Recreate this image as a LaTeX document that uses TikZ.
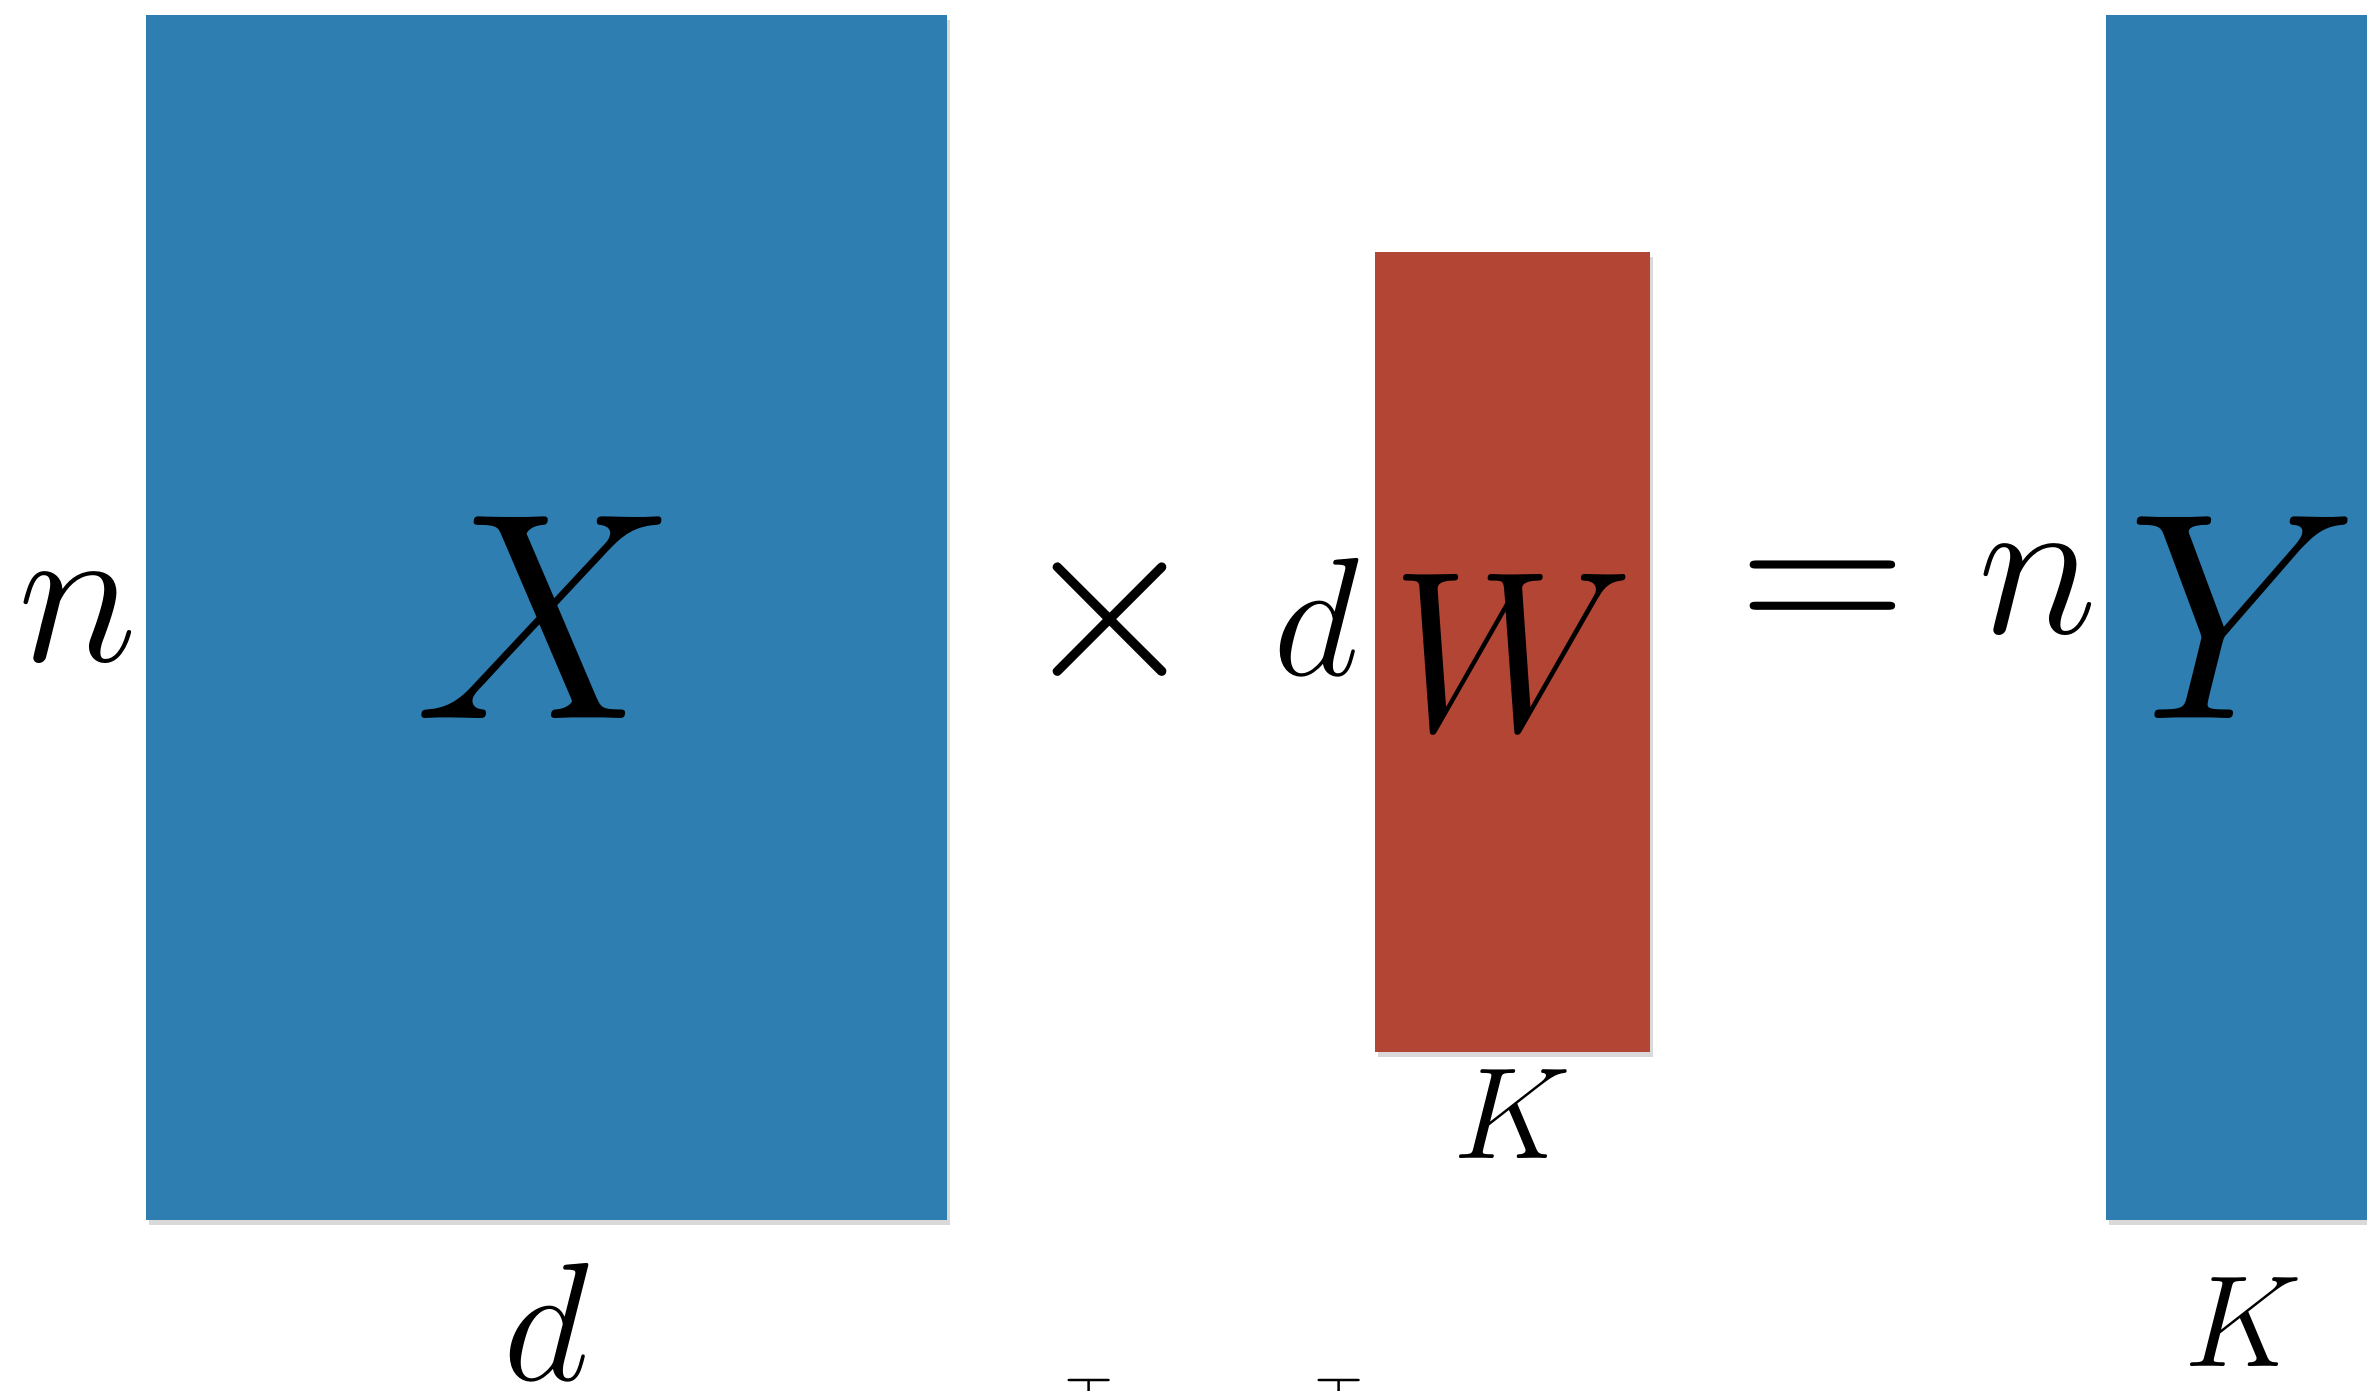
\RequirePackage{fix-cm}
\documentclass[tikz,border=0pt]{standalone}
\usepackage{amsmath}
\definecolor{matBlue}{HTML}{2E7EB1}
\definecolor{matRed}{HTML}{B24533}
\usetikzlibrary{positioning, shadows}

\begin{document}
\begin{tikzpicture}[
  mat/.style={inner sep=0pt, outer sep=0pt,
    drop shadow={shadow xshift=0.03cm, shadow yshift=-0.05cm, opacity=0.3}},
  dimlbl/.style={inner sep=0pt, outer sep=0pt},
  big/.style={font=\fontsize{84}{90}\selectfont},
  mid/.style={font=\fontsize{65}{70}\selectfont}
]
  \useasboundingbox (0,0) rectangle (23.67,-13.90);

  % Matrices
  \node[mat, big, fill=matBlue, minimum width=8.01cm, minimum height=12.05cm]
    (X) at (5.465,-6.175) {$X$};
  \node[mat, mid, fill=matRed, minimum width=2.75cm, minimum height=8.00cm]
    (W) at (15.125,-6.52) {$W$};
  \node[mat, big, fill=matBlue, minimum width=2.75cm, minimum height=12.05cm]
    (Y) at (22.435,-6.175) {$Y$};

  % Dimensions
  \node[dimlbl, font=\fontsize{58}{64}\selectfont, left=0.08cm of X] (nX) {$n$};
  \node[dimlbl, font=\fontsize{48}{54}\selectfont, below=0.43cm of X] (dX) {$d$};
  \node[dimlbl, font=\fontsize{48}{54}\selectfont, anchor=east]
    (dW) at (13.59,-6.17) {$d$};
  \node[dimlbl, font=\fontsize{37}{42}\selectfont, below=0.18cm of W] (kW) {$K$};
  \node[dimlbl, font=\fontsize{58}{64}\selectfont, anchor=east]
    (nY) at (20.98,-5.90) {$n$};
  \node[dimlbl, font=\fontsize{37}{42}\selectfont, below=0.58cm of Y] (kY) {$K$};

  % Operators
  \node[dimlbl, font=\fontsize{67}{72}\selectfont] (times) at (11.10,-6.20) {$\times$};
  \node[dimlbl, font=\fontsize{66}{72}\selectfont] (eq) at (18.23,-6.02) {$=$};

  % cut off at the bottom
  \node[dimlbl, font=\fontsize{18}{22}\selectfont, anchor=north]
    (topA) at (10.89,-13.78) {$\top$};
  \node[dimlbl, font=\fontsize{18}{22}\selectfont, anchor=north]
    (topB) at (13.39,-13.78) {$\top$};
\end{tikzpicture}
\end{document}
